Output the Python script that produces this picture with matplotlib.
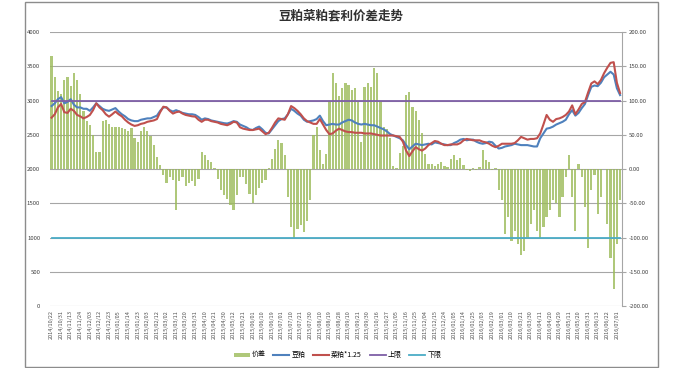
import numpy as np
import matplotlib
matplotlib.use('Agg')
import matplotlib.pyplot as plt
from matplotlib.patches import Rectangle

plt.rcParams['font.family'] = ['Noto Sans CJK SC', 'DejaVu Sans']

# x tick labels (every 3rd point)
date_labels = [
    '2014/10/22', '2014/10/31', '2014/11/13', '2014/11/24', '2014/12/03', '2014/12/12',
    '2014/12/23', '2015/01/05', '2015/01/14', '2015/01/23', '2015/02/03', '2015/02/12',
    '2015/03/02', '2015/03/11', '2015/03/20', '2015/03/31', '2015/04/10', '2015/04/21',
    '2015/04/30', '2015/05/12', '2015/05/21', '2015/06/01', '2015/06/10', '2015/06/19',
    '2015/07/01', '2015/07/10', '2015/07/21', '2015/07/30', '2015/08/10', '2015/08/19',
    '2015/08/28', '2015/09/10', '2015/09/21', '2015/09/30', '2015/10/16', '2015/10/27',
    '2015/11/05', '2015/11/16', '2015/11/25', '2015/12/04', '2015/12/15', '2015/12/24',
    '2016/01/05', '2016/01/14', '2016/01/25', '2016/02/03', '2016/02/19', '2016/03/01',
    '2016/03/10', '2016/03/21', '2016/03/30', '2016/04/11', '2016/04/20', '2016/04/29',
    '2016/05/11', '2016/05/20', '2016/05/31', '2016/06/13', '2016/06/22', '2016/07/01',
]

# 豆粕 (left axis)
soy = [
    2920, 2960, 3020, 3050, 2960, 2980, 3020, 2940, 2900, 2900,
    2880, 2880, 2850, 2900, 2960, 2920, 2880, 2860, 2850, 2870,
    2890, 2840, 2800, 2770, 2730, 2710, 2700, 2700, 2720, 2730,
    2740, 2740, 2760, 2780, 2850, 2900, 2900, 2860, 2840, 2860,
    2840, 2820, 2810, 2800, 2800, 2790, 2760, 2720, 2740, 2730,
    2710, 2700, 2690, 2680, 2670, 2665, 2680, 2700, 2690, 2650,
    2630, 2610, 2580, 2570, 2600, 2620, 2580, 2530, 2520, 2580,
    2640, 2700, 2730, 2740, 2800, 2880, 2850, 2810, 2780, 2720,
    2690, 2700, 2710, 2730, 2780, 2700, 2640, 2650, 2660, 2650,
    2650, 2680, 2700, 2720, 2710, 2680, 2660, 2650, 2660, 2650,
    2640, 2640, 2620, 2600, 2580, 2550, 2510, 2490, 2470, 2450,
    2420, 2350, 2290, 2330, 2370, 2360, 2350, 2360, 2370, 2360,
    2390, 2380, 2370, 2360, 2350, 2350, 2380, 2400, 2430, 2440,
    2420, 2430, 2430, 2400, 2380, 2370, 2380, 2400, 2390, 2340,
    2300, 2310, 2330, 2340, 2350, 2370, 2360, 2350, 2350, 2350,
    2340, 2330, 2330, 2450, 2520, 2590, 2600, 2620, 2650, 2670,
    2690, 2720, 2800, 2860, 2780, 2820, 2890, 2950, 3080, 3200,
    3220, 3210, 3260, 3340, 3380, 3420, 3380, 3180, 3080,
]

# 菜粕*1.25 (left axis)
rape = [
    2750, 2800, 2900, 2950, 2830, 2820, 2880, 2850, 2790, 2770,
    2740, 2760, 2790, 2860, 2960, 2900, 2860, 2800, 2765, 2800,
    2840, 2800, 2770, 2720, 2680, 2650, 2630, 2640, 2660, 2670,
    2690, 2700, 2710, 2730, 2830, 2910, 2900, 2850, 2810, 2830,
    2840, 2810, 2790, 2780, 2770, 2765, 2720, 2690, 2720, 2720,
    2700, 2690, 2680, 2660, 2650, 2640, 2660, 2690, 2680, 2610,
    2590, 2580, 2570, 2570, 2580, 2590, 2550, 2510, 2530, 2600,
    2680, 2740, 2730, 2720, 2800, 2920, 2890, 2850, 2800, 2740,
    2700, 2680, 2660, 2660, 2730, 2650, 2570, 2510, 2520, 2560,
    2590, 2570, 2550, 2540, 2540, 2530, 2530, 2530, 2520, 2520,
    2520, 2510, 2500, 2490, 2490, 2490, 2490, 2490, 2480, 2470,
    2400, 2270, 2190, 2260, 2320, 2290, 2270, 2300, 2350, 2380,
    2410, 2400, 2370, 2350, 2350, 2360, 2360, 2360, 2380, 2420,
    2440, 2430, 2420, 2420, 2420, 2400, 2390, 2370, 2340, 2320,
    2340, 2370, 2370, 2370, 2370, 2380, 2420, 2470, 2450, 2430,
    2440, 2440, 2450, 2520, 2650, 2790, 2720, 2690, 2730, 2740,
    2760, 2790, 2840, 2930, 2800, 2870, 2950, 2980, 3120, 3250,
    3280, 3240, 3300, 3400, 3480, 3550, 3560, 3260, 3110,
]

# 价差 (right axis)
spread = [
    165, 135, 114, 110, 130, 135, 121, 140, 130, 110,
    85, 70, 65, 50, 25, 25, 70, 72, 66, 62,
    62, 62, 60, 58, 56, 60, 45, 40, 55, 62,
    55, 48, 35, 18, 6, -8, -20, -12, -16, -60,
    -18, -12, -25, -21, -17, -25, -15, 25, 20, 14,
    10, 2, -15, -30, -38, -44, -52, -60, -38, -12,
    -12, -22, -36, -50, -38, -27, -21, -16, 2, 15,
    30, 42, 38, 20, -40, -85, -100, -88, -82, -92,
    -75, -45, 50, 62, 28, 8, 22, 100, 140, 125,
    106, 118, 126, 122, 115, 118, 98, 40, 120, 125,
    120, 148, 140, 100, 62, 58, 45, 5, 2, 23,
    33, 108, 112, 90, 85, 72, 52, 22, 8, 8,
    5, 8, 10, 5, 3, 15, 20, 14, 16, 6,
    -2, -3, 2, -2, 3, 28, 14, 10, -2, 2,
    -30, -45, -95, -70, -105, -90, -110, -125, -120, -100,
    -80, -60, -90, -100, -85, -70, -60, -45, -50, -70,
    -40, -12, 20, -40, -90, 8, -12, -55, -115, -30,
    -8, -65, -40, 0, -80, -130, -175, -110, -45,
]

upper_limit = 3000
lower_limit = 1000

n = len(spread)
x = np.arange(n)

fig = plt.figure(figsize=(6.75, 3.68), dpi=100)
fig.patches.append(Rectangle((25 / 675, 1 / 368), 633 / 675, 365 / 368,
                             transform=fig.transFigure, fill=False,
                             edgecolor='#8c8c8c', lw=1.0))

ax = fig.add_axes([0.074, 0.168, 0.847, 0.745])
ax2 = ax.twinx()
ax.set_zorder(ax2.get_zorder() + 1)
ax.patch.set_visible(False)

# bars on right axis, behind the lines
b = ax2.bar(x, spread, width=0.7, color='#9bbb59', alpha=0.8, label='价差')
ax2.set_ylim(-200, 200)
ax2.set_yticks(np.arange(-200, 201, 50))
ax2.set_yticklabels(['%.2f' % v for v in np.arange(-200, 201, 50)])
ax2.grid(axis='y', color='#a6a6a6', lw=0.8)
ax2.set_axisbelow(True)

l1, = ax.plot(x, soy, color='#4f81bd', lw=1.5, label='豆粕')
l2, = ax.plot(x, rape, color='#c0504d', lw=1.5, label='菜粕*1.25')
l3, = ax.plot(x, [upper_limit] * n, color='#7e5fa6', lw=1.3, label='上限')
l4, = ax.plot(x, [lower_limit] * n, color='#4bacc6', lw=1.3, label='下限')

ax.set_ylim(0, 4000)
ax.set_yticks(np.arange(0, 4001, 500))
ax.set_xlim(-0.5, n - 0.5)
ax.set_xticks(x[::3])
ax.set_xticklabels(date_labels, rotation=90, fontsize=4, color='#505050')

ax.tick_params(axis='y', length=0, labelsize=4.3, labelcolor='#404040', pad=7)
ax.tick_params(axis='x', length=0, pad=3)
ax2.tick_params(axis='y', length=3, labelsize=4.3, labelcolor='#404040',
                color='#a6a6a6', pad=2)

for s in ['top', 'left', 'bottom']:
    ax.spines[s].set_visible(False)
    ax2.spines[s].set_visible(False)
ax.spines['right'].set_visible(False)
ax2.spines['right'].set_color('#a6a6a6')
ax2.spines['right'].set_linewidth(0.8)

fig.text(0.505, 0.957, '豆粕菜粕套利价差走势', ha='center', va='center',
         fontsize=9, fontweight='bold', color='#303030')

fig.legend([b, l1, l2, l3, l4], ['价差', '豆粕', '菜粕*1.25', '上限', '下限'],
           loc='center', bbox_to_anchor=(0.5, 0.035), ncol=5, frameon=False,
           fontsize=5, handlelength=2.3, handleheight=0.5, columnspacing=1.1,
           handletextpad=0.3)

fig.savefig('out.png', dpi=100)
